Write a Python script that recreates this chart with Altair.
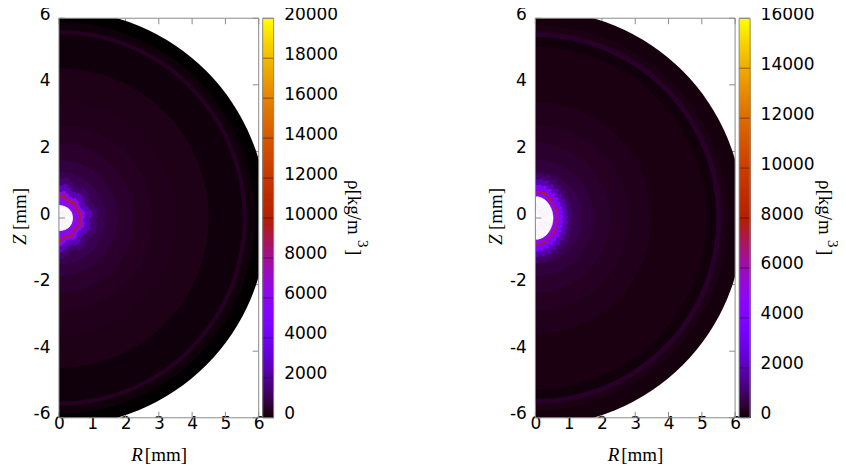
import math
import altair as alt
import pandas as pd

FONT = "DejaVu Sans"
SERIF = "Liberation Serif"
GREY = "#8c8c8c"

x_ticks = [0, 1, 2, 3, 4, 5, 6]
y_ticks = [-6, -4, -2, 0, 2, 4, 6]
cb_ticks_left = list(range(0, 20001, 2000))
cb_ticks_right = list(range(0, 16001, 2000))
RIM = 6.25

# smooth outer bands, outermost first: (outer radius mm, density)
left_bands = [
    (RIM, 15), (5.88, 130), (5.64, 440), (5.52, 130), (4.5, 280), (3.5, 330),
    (2.8, 420), (2.25, 560), (1.75, 760), (1.4, 1000),
]
right_bands = [
    (RIM, 140), (5.79, 200), (5.59, 420), (5.44, 110), (5.14, 180), (3.48, 280),
    (2.8, 340), (2.25, 440), (1.75, 600), (1.4, 800),
]
# inner bands drawn per sector: (radius, density), radius scaled by the wobble
left_inner = [(1.10, 1450), (0.92, 2600), (0.74, 6000), (0.64, 9600), (0.58, 6000)]
right_inner = [(1.12, 1100), (0.98, 2000), (0.84, 4000), (0.69, 7800), (0.65, 4800)]
# sector shape of the bumpy inner zone, from the top (0 deg) to the bottom (180 deg)
left_wobble = [1.07, 1.12, 1.05, 0.97, 0.98, 1.05, 1.04, 0.98, 0.97, 1.02, 1.07, 1.05,
               1.0, 1.05, 1.07, 1.02, 0.97, 0.98, 1.04, 1.05, 0.98, 0.97, 1.05, 1.12]
right_wobble = [1.18, 1.2, 1.15, 1.2, 1.12, 1.16, 1.08, 1.12, 1.03, 1.08, 1.0, 1.05, 0.99, 1.03, 0.98,
                1.02, 0.98, 1.01, 0.97, 1.01, 0.98, 1.03, 0.98, 1.05, 1.0, 1.08, 1.03, 1.1, 1.06, 1.14,
                1.08, 1.17, 1.12, 1.19, 1.15, 1.2]
left_hole = [0.38, 0.38, 0.38, 0.385, 0.39, 0.395, 0.40, 0.405, 0.41, 0.41, 0.41, 0.41,
             0.41, 0.41, 0.41, 0.41, 0.41, 0.405, 0.40, 0.395, 0.39, 0.385, 0.38, 0.38]
right_hole = [0.64, 0.64, 0.635, 0.63, 0.62, 0.61, 0.60, 0.59, 0.58, 0.57, 0.56, 0.55, 0.545, 0.54, 0.535,
              0.53, 0.53, 0.53, 0.53, 0.53, 0.53, 0.535, 0.54, 0.545, 0.55, 0.56, 0.57, 0.58, 0.59, 0.60,
              0.61, 0.62, 0.63, 0.635, 0.64, 0.64]


def gnu_hex(t):
    r = math.sqrt(t)
    g = t ** 3
    b = max(0.0, math.sin(2 * math.pi * t))
    return "#%02x%02x%02x" % (round(r * 255), round(g * 255), round(b * 255))


palette = [gnu_hex(i / 96) for i in range(97)]


def rows(bands, inner, wobble, hole):
    out = []
    for r, v in bands:
        out.append(dict(t0=0.0, t1=math.pi, r=r, v=v, kind="band"))
    n = len(wobble)
    step = math.pi / n
    for r, v in inner:
        for i, w in enumerate(wobble):
            out.append(dict(t0=i * step, t1=(i + 1) * step + 0.01, r=r * w, v=v, kind="band"))
    for i, h in enumerate(hole):
        out.append(dict(t0=i * step, t1=(i + 1) * step + 0.01, r=h, v=0, kind="hole"))
    return pd.DataFrame(out)


def panel(bands, inner, wobble, hole, vmax):
    color_scale = alt.Scale(domain=[0, vmax], range=palette, interpolate="rgb")
    xs = alt.Scale(domain=[0, 6], nice=False, zero=False)
    ys = alt.Scale(domain=[-6, 6], nice=False, zero=False)
    rs = alt.Scale(type="linear", domain=[0, 6], range=[0, 200])
    d = rows(bands, inner, wobble, hole)
    d["cx"] = 0
    d["cy"] = 0
    xax = alt.Axis(values=x_ticks, title=None, grid=False, ticks=False, domain=False, labelFont=FONT,
                   labelFontSize=17, labelColor="black", labelPadding=-2, labelFlush=False,
                   labelExpr="toString(datum.value)", labelOverlap=False)
    yax = alt.Axis(values=y_ticks, title=None, grid=False, ticks=False, domain=False, labelFont=FONT,
                   labelFontSize=17, labelColor="black", labelPadding=9, labelFlush=False,
                   labelOffset=-4, labelExpr="toString(datum.value)", labelOverlap=False)
    tx = pd.DataFrame({"x": x_ticks})
    ty = pd.DataFrame({"y": y_ticks})
    X = alt.X("x:Q", scale=xs, axis=xax)
    Y = alt.Y("y:Q", scale=ys, axis=yax)
    rule = dict(color=GREY, strokeWidth=1)
    layers = [
        alt.Chart(tx).mark_rule(**rule).encode(x=X, y=alt.value(400), y2=alt.value(394)),
        alt.Chart(tx).mark_rule(**rule).encode(x=X, y=alt.value(0), y2=alt.value(6)),
        alt.Chart(ty).mark_rule(**rule).encode(y=Y, x=alt.value(0), x2=alt.value(6)),
        alt.Chart(ty).mark_rule(**rule).encode(y=Y, x=alt.value(200), x2=alt.value(194)),
    ]
    fx = alt.X("cx:Q", scale=xs, axis=xax)
    fy = alt.Y("cy:Q", scale=ys, axis=yax)
    th = alt.Theta("t0:Q", scale=None, stack=None)
    th2 = alt.Theta2("t1:Q")
    rad = alt.Radius("r:Q", scale=rs, stack=None)
    layers.append(
        alt.Chart(d[d.kind == "band"]).mark_arc(clip=True, radius2=0, opacity=1).encode(
            x=fx, y=fy, theta=th, theta2=th2, radius=rad,
            color=alt.Color("v:Q", scale=color_scale, legend=None),
        )
    )
    layers.append(
        alt.Chart(d[d.kind == "hole"]).mark_arc(clip=True, radius2=0, color="white", stroke="white",
                                                strokeWidth=0.5, opacity=1).encode(
            x=fx, y=fy, theta=th, theta2=th2, radius=rad)
    )
    layers.append(
        alt.Chart(pd.DataFrame({"y": [0]})).mark_rule(**rule).encode(y=Y, x=alt.value(0), x2=alt.value(6))
    )
    # frame
    fr = pd.DataFrame({"x": [0], "x2": [6], "y": [-6], "y2": [6]})
    layers.append(
        alt.Chart(fr).mark_rect(fill=None, stroke=GREY, strokeWidth=1).encode(
            x=X, x2="x2:Q", y=Y, y2="y2:Q")
    )
    one = pd.DataFrame({"a": [0]})
    base = dict(font=SERIF, fontSize=19, color="black")
    layers += [
        alt.Chart(one).mark_text(text="R", fontStyle="italic", align="right", baseline="alphabetic", **base)
        .encode(x=alt.value(84), y=alt.value(443)),
        alt.Chart(one).mark_text(text="[mm]", align="left", baseline="alphabetic", **base)
        .encode(x=alt.value(86), y=alt.value(443)),
        alt.Chart(one).mark_text(text="Z", fontStyle="italic", angle=270, align="left", baseline="alphabetic", **base)
        .encode(x=alt.value(-33), y=alt.value(227)),
        alt.Chart(one).mark_text(text="[mm]", angle=270, align="left", baseline="alphabetic", **base)
        .encode(x=alt.value(-33), y=alt.value(212)),
    ]
    return alt.layer(*layers).properties(width=200, height=400)


def colorbar(vmax, ticks, main_x, sup_x):
    color_scale = alt.Scale(domain=[0, vmax], range=palette, interpolate="rgb")
    ys = alt.Scale(domain=[0, vmax], nice=False, zero=False)
    levels = [vmax * (256 - i) / 256 for i in range(256)]
    d = pd.DataFrame({"top": levels, "low": [0] * len(levels)})
    yax = alt.Axis(values=ticks, title=None, orient="right", grid=False, ticks=False, domain=False,
                   labelFont=FONT, labelFontSize=17, labelColor="black", labelPadding=10, labelOffset=-4,
                   labelFlush=False, labelOverlap=False, labelExpr="toString(datum.value)")
    Y = alt.Y("top:Q", scale=ys, axis=yax)
    bar = alt.Chart(d).mark_rect().encode(
        y=Y, y2="low:Q", x=alt.value(0), x2=alt.value(11),
        color=alt.Color("top:Q", scale=color_scale, legend=None),
    )
    tick = alt.Chart(pd.DataFrame({"t": ticks})).mark_rule(color="black", opacity=0.45, strokeWidth=1).encode(
        y=alt.Y("t:Q", scale=ys, axis=yax), x=alt.value(0), x2=alt.value(11))
    frame = alt.Chart(pd.DataFrame({"a": [0], "b": [vmax]})).mark_rect(fill=None, stroke=GREY, strokeWidth=1).encode(
        y=alt.Y("a:Q", scale=ys, axis=yax), y2="b:Q", x=alt.value(0), x2=alt.value(11))
    one = pd.DataFrame({"a": [0]})
    base = dict(font=SERIF, color="black", angle=90, align="left", baseline="alphabetic")
    texts = [
        alt.Chart(one).mark_text(text="ρ[kg/m", fontSize=19, **base).encode(x=alt.value(main_x), y=alt.value(162)),
        alt.Chart(one).mark_text(text="3", fontSize=15, **base).encode(x=alt.value(sup_x), y=alt.value(222)),
        alt.Chart(one).mark_text(text="]", fontSize=19, **base).encode(x=alt.value(main_x), y=alt.value(231)),
    ]
    return alt.layer(bar, tick, frame, *texts).properties(width=11, height=400)


left = alt.hconcat(panel(left_bands, left_inner, left_wobble, left_hole, 20000),
                   colorbar(20000, cb_ticks_left, 85, 95), spacing=4, bounds="flush").resolve_scale(color="independent")
right = alt.hconcat(panel(right_bands, right_inner, right_wobble, right_hole, 16000),
                    colorbar(16000, cb_ticks_right, 80, 89), spacing=4, bounds="flush").resolve_scale(color="independent")
chart = alt.hconcat(left, right, spacing=477, bounds="flush", padding={"left": 3, "top": -3, "right": -2, "bottom": 0}
                    ).resolve_scale(color="independent").configure_view(stroke=None).configure_concat(spacing=4)
chart.save("out.html", embed_options={"renderer": "svg", "actions": False})
